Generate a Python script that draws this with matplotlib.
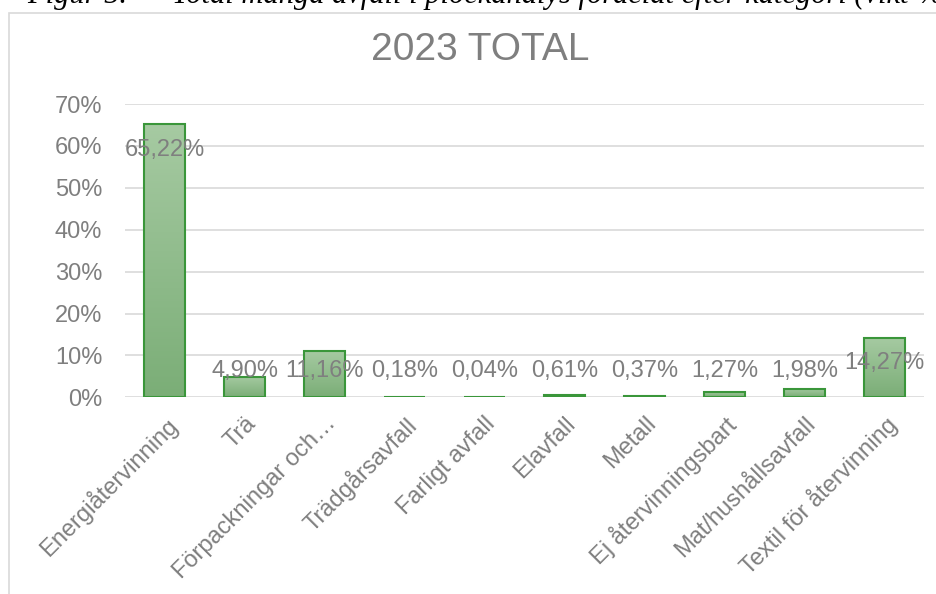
import numpy as np
import matplotlib
matplotlib.use('Agg')
import matplotlib.pyplot as plt
from matplotlib.patches import Rectangle
from matplotlib.colors import LinearSegmentedColormap

############ Data ##########################
categories = ['Energiåtervinning', 'Trä', 'Förpackningar och…', 'Trädgårsavfall',
              'Farligt avfall', 'Elavfall', 'Metall', 'Ej återvinningsbart',
              'Mat/hushållsavfall', 'Textil för återvinning']
values = [65.22, 4.90, 11.16, 0.18, 0.04, 0.61, 0.37, 1.27, 1.98, 14.27]   # percent
value_labels = ['65,22%', '4,90%', '11,16%', '0,18%', '0,04%', '0,61%',
                '0,37%', '1,27%', '1,98%', '14,27%']
yticks = [0, 10, 20, 30, 40, 50, 60, 70]
title = '2023 TOTAL'
caption_num = 'Figur 5.'
caption = 'Total mängd avfall i plockanalys fördelat efter kategori (vikt-%)'

############ Style ##########################
plt.rcParams['font.family'] = ['Liberation Sans', 'DejaVu Sans']
grey = '#7f7f7f'
edge = '#3a963a'
grad = LinearSegmentedColormap.from_list('g', ['#7bae77', '#a6caa2'])

W, H = 936, 594
fig = plt.figure(figsize=(W / 100, H / 100), dpi=100)

# outer chart border (runs off the right/bottom of the picture)
fig.patches.append(Rectangle((8.5 / W, -0.05), 1.2, 1 - 13 / H + 0.05,
                             transform=fig.transFigure, fill=False,
                             edgecolor='#d9d9d9', linewidth=1.2))

# caption of the document, cut off at the top edge as in the source picture
fig.text(27 / W, 1 - 3 / H, caption_num, fontsize=22, style='italic',
         family='Liberation Serif', va='baseline', ha='left', color='black')
fig.text(172 / W, 1 - 3 / H, caption, fontsize=22, style='italic',
         family='Liberation Serif', va='baseline', ha='left', color='black')

ax = fig.add_axes([124.5 / W, 1 - 397.3 / H, 800 / W, (397.3 - 104) / H])
x = np.arange(len(categories))
bars = ax.bar(x, values, width=0.51, color='none', edgecolor=edge,
              linewidth=1.5, zorder=3)

# vertical gradient fill inside each bar
g = np.linspace(0, 1, 100).reshape(-1, 1)
for b in bars:
    x0, w, h = b.get_x(), b.get_width(), b.get_height()
    im = ax.imshow(g, cmap=grad, origin='lower', aspect='auto',
                   extent=(x0, x0 + w, 0, h), zorder=2)
    im.set_clip_path(b)

ax.set_xlim(-0.5, len(categories) - 0.5)
ax.set_ylim(0, 70)
ax.set_yticks(yticks)
ax.set_yticklabels([f'{t}%' for t in yticks])
ax.yaxis.grid(True, color='#d9d9d9', linewidth=1.2, zorder=0)
ax.set_axisbelow(True)
for s in ax.spines.values():
    s.set_visible(False)
ax.tick_params(axis='y', length=0, pad=16, labelsize=17, labelcolor=grey)
ax.tick_params(axis='x', length=0, pad=11, labelsize=17, labelcolor=grey)
ax.set_xticks(x)
ax.set_xticklabels(categories, rotation=45, ha='right', rotation_mode='anchor')
for lab in ax.get_xticklabels():
    lab.set_x(lab.get_position()[0])

# data labels (Excel placed them just below the top of the bar, with a floor)
for xi, v, lab in zip(x, values, value_labels):
    ax.text(xi, max(v - 6.1, 6.3), lab, ha='center', va='center',
            fontsize=17, color=grey, zorder=4)

fig.text(480 / W, 1 - 50 / H, title, ha='center', va='center',
         fontsize=28, color=grey)

fig.savefig('out.png', dpi=100)
